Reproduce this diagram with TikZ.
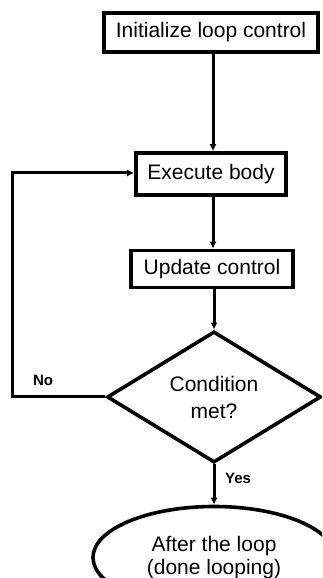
\documentclass[tikz,border=0pt]{standalone}
\usepackage{fontspec}
\setmainfont{Liberation Sans}
\usetikzlibrary{shapes.geometric,arrows.meta}
\begin{document}
\begin{tikzpicture}[x=1pt,y=1pt,
  box/.style={draw,line width=3.6pt,inner sep=0pt,font=\fontsize{21}{25}\selectfont},
  arr/.style={line width=3pt,-{Latex[length=7pt,width=7pt]}},
  lab/.style={font=\bfseries\fontsize{15}{17}\selectfont}]
\useasboundingbox (0,0) rectangle (322,578);
\clip (0,0) rectangle (322,578);
\coordinate (axis) at (213,0);
\node[box,minimum width=214pt,minimum height=39pt] (init) at (211,545.5) {Initialize loop control};
\node[box,minimum width=150pt,minimum height=42pt] (exec) at (211,404) {Execute body};
\node[box,minimum width=162pt,minimum height=37pt] (upd) at (212,309) {Update control};
\node[box,diamond,minimum width=214pt,minimum height=120pt,align=center,
  font=\fontsize{21}{27}\selectfont] (cond) at (214,181) {Condition\\met?};
\node[box,ellipse,minimum width=242pt,minimum height=102pt,align=center,
  font=\fontsize{21}{23.5}\selectfont] (after) at (214,20.5) {After the loop\\(done looping)};
\coordinate (nl) at (12.5,181);
\coordinate (nu) at (12.5,405);
\draw[arr] (init.south -| axis) -- (exec.north -| axis);
\draw[arr] (exec.south -| axis) -- (upd.north -| axis);
\draw[arr] (upd.south -| cond.north) -- (cond.north);
\draw[arr] (cond.south) -- (after.north);
\draw[arr,line join=miter] (cond.west) -- (nl) -- (nu) -- (exec.west |- nu);
\node[lab] (no) at (43,198) {No};
\node[lab] (yes) at (238,100) {Yes};
\end{tikzpicture}
\end{document}
